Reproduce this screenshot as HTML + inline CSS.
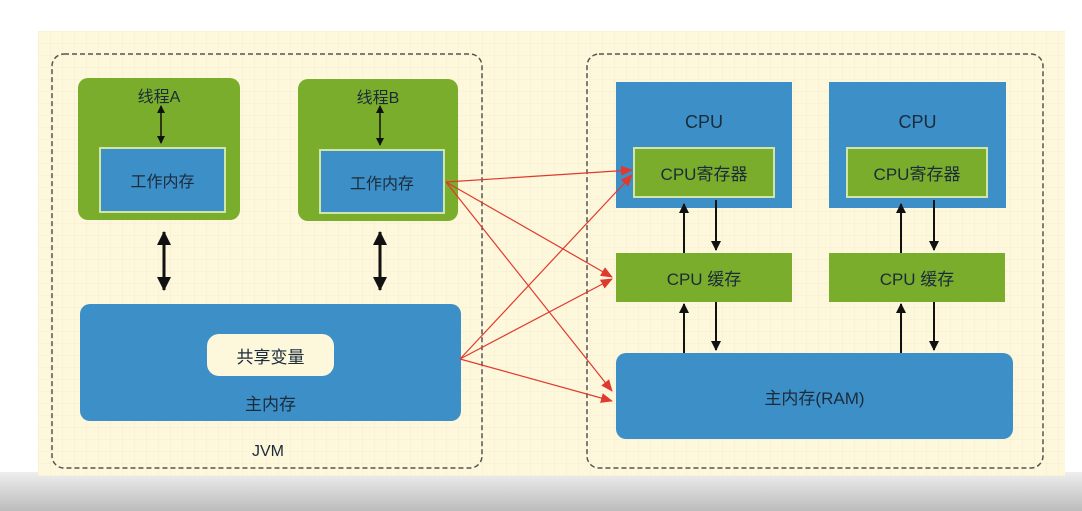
<!DOCTYPE html>
<html><head><meta charset="utf-8"><style>
html,body{margin:0;padding:0;}
body{width:1082px;height:511px;overflow:hidden;position:relative;background:#fff;font-family:"Liberation Sans","Noto Sans CJK SC",sans-serif;}
.grad{position:absolute;left:0;top:472px;width:1082px;height:39px;background:linear-gradient(#eeeeee,#bcbcbc);}
.panel{position:absolute;left:38px;top:31px;width:1027px;height:445px;background:#fdf8dc;
background-image:linear-gradient(rgba(230,200,170,.12) 1px,transparent 1px),linear-gradient(90deg,rgba(230,200,170,.12) 1px,transparent 1px);background-size:12px 12px;}
.b{position:absolute;box-sizing:border-box;display:flex;align-items:center;justify-content:center;color:#1c2b3a;font-size:16px;}
.g{background:#7aad2b;}
.bl{background:#3d8fc8;}
.in{border:2px solid #cfe6a8;}
</style></head><body>
<div class="grad"></div>
<div class="panel"></div>
<svg width="1082" height="511" style="position:absolute;left:0;top:0">
<rect x="52" y="54" width="430" height="414" rx="12" fill="none" stroke="#555" stroke-width="1.5" stroke-dasharray="5,3"/>
<rect x="587" y="54" width="456" height="414" rx="12" fill="none" stroke="#555" stroke-width="1.5" stroke-dasharray="5,3"/>
</svg>
<div class="b g" style="left:78px;top:78px;width:162px;height:142px;border-radius:10px;align-items:flex-start;padding-top:5px;">线程A</div>
<div class="b bl in" style="left:99px;top:147px;width:127px;height:66px;">工作内存</div>
<div class="b g" style="left:298px;top:79px;width:160px;height:142px;border-radius:10px;align-items:flex-start;padding-top:5px;">线程B</div>
<div class="b bl in" style="left:319px;top:149px;width:126px;height:65px;">工作内存</div>
<div class="b bl" style="left:80px;top:304px;width:381px;height:117px;border-radius:10px;align-items:flex-end;padding-bottom:6px;font-size:17px;">主内存</div>
<div class="b" style="left:207px;top:334px;width:127px;height:42px;background:#fdf8dc;border-radius:12px;font-size:17px;">共享变量</div>
<div class="b" style="left:238px;top:440px;width:60px;height:24px;font-size:16px;">JVM</div>

<div class="b bl" style="left:616px;top:82px;width:176px;height:126px;align-items:flex-start;padding-top:30px;font-size:18px;">CPU</div>
<div class="b g in" style="left:633px;top:147px;width:142px;height:51px;font-size:17px;">CPU寄存器</div>
<div class="b bl" style="left:829px;top:82px;width:177px;height:126px;align-items:flex-start;padding-top:30px;font-size:18px;">CPU</div>
<div class="b g in" style="left:846px;top:147px;width:142px;height:51px;font-size:17px;">CPU寄存器</div>
<div class="b g" style="left:616px;top:253px;width:176px;height:49px;font-size:17px;">CPU 缓存</div>
<div class="b g" style="left:829px;top:253px;width:176px;height:49px;font-size:17px;">CPU 缓存</div>
<div class="b bl" style="left:616px;top:353px;width:397px;height:86px;border-radius:10px;font-size:17px;">主内存(RAM)</div>

<svg width="1082" height="511" style="position:absolute;left:0;top:0">
<defs>
<marker id="a" markerWidth="10" markerHeight="10" refX="9" refY="5" orient="auto" markerUnits="userSpaceOnUse"><path d="M0,0L10,5L0,10z" fill="#111"/></marker>
<marker id="t" markerWidth="14" markerHeight="14" refX="13" refY="7" orient="auto-start-reverse" markerUnits="userSpaceOnUse"><path d="M0,0L14,7L0,14z" fill="#111"/></marker>
<marker id="s" markerWidth="8" markerHeight="8" refX="7" refY="4" orient="auto-start-reverse" markerUnits="userSpaceOnUse"><path d="M0,0L8,4L0,8z" fill="#111"/></marker>
<marker id="r" markerWidth="12" markerHeight="10" refX="11" refY="5" orient="auto" markerUnits="userSpaceOnUse"><path d="M0,0L12,5L0,10z" fill="#e0392e"/></marker>
</defs>
<g stroke="#111" stroke-width="1.5">
<line x1="161" y1="106" x2="161" y2="143" marker-start="url(#s)" marker-end="url(#s)"/>
<line x1="380" y1="106" x2="380" y2="145" marker-start="url(#s)" marker-end="url(#s)"/>
</g>
<g stroke="#111" stroke-width="3">
<line x1="164" y1="232" x2="164" y2="290" marker-start="url(#t)" marker-end="url(#t)"/>
<line x1="380" y1="232" x2="380" y2="290" marker-start="url(#t)" marker-end="url(#t)"/>
</g>
<g stroke="#111" stroke-width="2">
<line x1="684" y1="253" x2="684" y2="204" marker-end="url(#a)"/>
<line x1="716" y1="200" x2="716" y2="250" marker-end="url(#a)"/>
<line x1="684" y1="353" x2="684" y2="304" marker-end="url(#a)"/>
<line x1="716" y1="302" x2="716" y2="350" marker-end="url(#a)"/>
<line x1="901" y1="253" x2="901" y2="204" marker-end="url(#a)"/>
<line x1="934" y1="200" x2="934" y2="250" marker-end="url(#a)"/>
<line x1="901" y1="353" x2="901" y2="304" marker-end="url(#a)"/>
<line x1="934" y1="302" x2="934" y2="350" marker-end="url(#a)"/>
</g>
<g stroke="#e0392e" stroke-width="1.2" fill="none">
<line x1="446" y1="182" x2="632" y2="170" marker-end="url(#r)"/>
<line x1="446" y1="182" x2="612" y2="277" marker-end="url(#r)"/>
<line x1="446" y1="182" x2="612" y2="391" marker-end="url(#r)"/>
<line x1="460" y1="359" x2="632" y2="175" marker-end="url(#r)"/>
<line x1="460" y1="359" x2="612" y2="279" marker-end="url(#r)"/>
<line x1="460" y1="359" x2="612" y2="401" marker-end="url(#r)"/>
</g>
</svg>
</body></html>
